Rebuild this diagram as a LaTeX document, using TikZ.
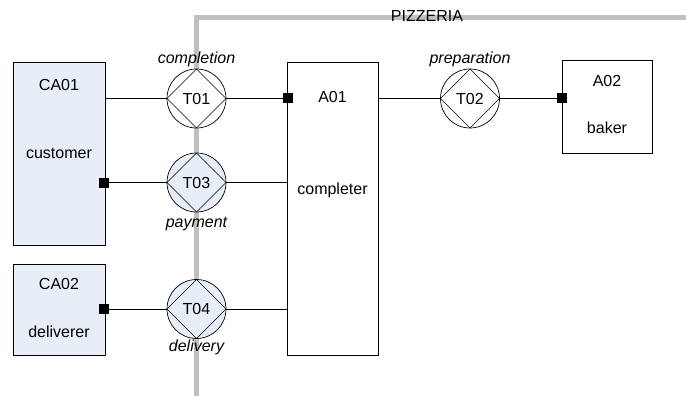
\documentclass[tikz,border=0pt]{standalone}
\usepackage{fontspec}
\setmainfont{Liberation Sans}
\definecolor{actfill}{RGB}{232,238,247}
\definecolor{bound}{RGB}{192,192,192}
\begin{document}
\begin{tikzpicture}[x=1pt,y=-1pt,
  font=\fontsize{16}{19}\selectfont,
  line width=0.7pt,
  box/.style={draw, rectangle, inner sep=0pt},
  tcirc/.style={draw, circle, minimum size=59pt, inner sep=0pt,
    path picture={\draw[line width=0.7pt] (path picture bounding box.north) -- (path picture bounding box.east) -- (path picture bounding box.south) -- (path picture bounding box.west) -- cycle;}},
  port/.style={fill=black, rectangle, minimum size=10pt, inner sep=0pt},
  tlabel/.style={font=\itshape\fontsize{16}{19}\selectfont}]
\useasboundingbox (0,0) rectangle (686,396);
\fill[white] (0,0) rectangle (686,396);
% system boundary
\draw[bound, line width=5pt] (196,396) -- (196,17.5) -- (686,17.5);
\node (pizzeria) at (427,16) {PIZZERIA};
% actor boxes
\node[box, fill=actfill, minimum width=92pt, minimum height=183pt] (ca01) at (59,153.5) {};
\node[box, fill=actfill, minimum width=92pt, minimum height=91pt] (ca02) at (59,309.5) {};
\node[box, fill=white, minimum width=91pt, minimum height=293pt] (a01) at (332.5,208.5) {};
\node[box, fill=white, minimum width=90pt, minimum height=93pt] (a02) at (607,106.5) {};
\node (ca01t) at (59,85) {CA01};
\node (ca01n) at (59,153) {customer};
\node (ca02t) at (59,284) {CA02};
\node (ca02n) at (59,332) {deliverer};
\node (a01t) at (332.5,97) {A01};
\node (a01n) at (332.5,190) {completer};
\node (a02t) at (607,81) {A02};
\node (a02n) at (607,128) {baker};
% transactions
\node[tcirc, fill=white] (t01) at (196.5,98.5) {T01};
\node[tcirc, fill=actfill] (t03) at (196.5,182.5) {T03};
\node[tcirc, fill=actfill] (t04) at (196.5,309) {T04};
\node[tcirc, fill=white] (t02) at (470,98.5) {T02};
\node[tlabel] (l01) at (196.5,59) {completion};
\node[tlabel] (l03) at (196.5,224) {payment};
\node[tlabel] (l04) at (196.5,347) {delivery};
\node[tlabel] (l02) at (470,59) {preparation};
% ports
\node[port] (p01) at (288,98.5) {};
\node[port] (p03) at (104,182.5) {};
\node[port] (p04) at (104,309) {};
\node[port] (p02) at (562,98.5) {};
% connectors
\draw (t01.west) -- (ca01.east |- t01.west);
\draw (t01.east) -- (p01.west);
\draw (t03.west) -- (p03.east);
\draw (t03.east) -- (a01.west |- t03.east);
\draw (t04.west) -- (p04.east);
\draw (t04.east) -- (a01.west |- t04.east);
\draw (a01.east |- t02.west) -- (t02.west);
\draw (t02.east) -- (p02.west);
\end{tikzpicture}
\end{document}
